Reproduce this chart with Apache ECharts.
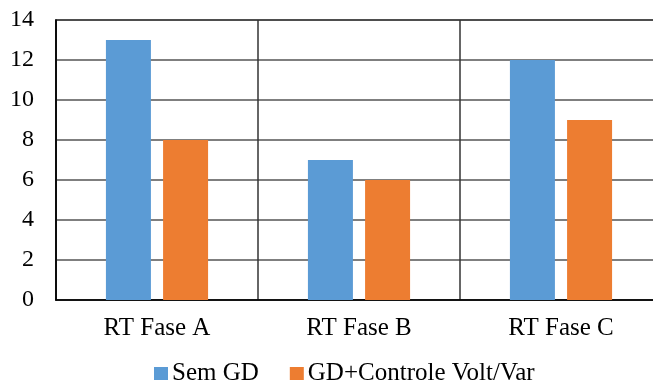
<!DOCTYPE html>
<html>
<head>
<meta charset="utf-8">
<style>
  html, body { margin: 0; padding: 0; background: #fff; }
  #chart { width: 653px; height: 383px; }
</style>
<script src="https://cdn.jsdelivr.net/npm/echarts@6/dist/echarts.min.js"></script>
</head>
<body>
<div id="chart"></div>
<script>
// Categories and series values
const categories = ['RT Fase A', 'RT Fase B', 'RT Fase C'];
const semGD = [13, 7, 12];
const gdVoltVar = [8, 6, 9];
const seriesNames = ['Sem GD', 'GD+Controle Volt/Var'];

const FONT = "'Liberation Serif', 'Times New Roman', serif";
const chart = echarts.init(document.getElementById('chart'));

chart.setOption({
  animation: false,
  backgroundColor: '#fff',
  grid: {
    left: 56, top: 20, width: 606, height: 280,
    outerBoundsMode: 'none',
    containLabel: false,
    show: true, borderColor: '#000', borderWidth: 1.5,
    backgroundColor: 'transparent'
  },
  legend: {
    left: 154, top: 361, padding: 0,
    itemWidth: 14, itemHeight: 13, itemGap: 31,
    icon: 'rect',
    textStyle: { fontFamily: FONT, fontSize: 25, color: '#000', padding: [0, 0, 0, -1] },
    data: seriesNames
  },
  xAxis: {
    type: 'category',
    data: categories,
    axisLine: { lineStyle: { color: '#000', width: 1.5 } },
    axisTick: { show: false },
    axisLabel: { fontFamily: FONT, fontSize: 25, color: '#000', margin: 16 },
    splitLine: { show: true, lineStyle: { color: '#333', width: 1.5 } }
  },
  yAxis: {
    type: 'value',
    min: 0, max: 14, interval: 2,
    axisLine: { show: true, lineStyle: { color: '#000', width: 1.5 } },
    axisTick: { show: false },
    axisLabel: { fontFamily: FONT, fontSize: 24, color: '#000', margin: 22 },
    splitLine: { lineStyle: { color: '#555', width: 1.5 } }
  },
  series: [
    {
      name: seriesNames[0], type: 'bar', data: semGD,
      barWidth: 45, barGap: '27%',
      itemStyle: { color: '#5B9BD5' }
    },
    {
      name: seriesNames[1], type: 'bar', data: gdVoltVar,
      barWidth: 45,
      itemStyle: { color: '#ED7D31' }
    }
  ]
});
</script>
</body>
</html>
